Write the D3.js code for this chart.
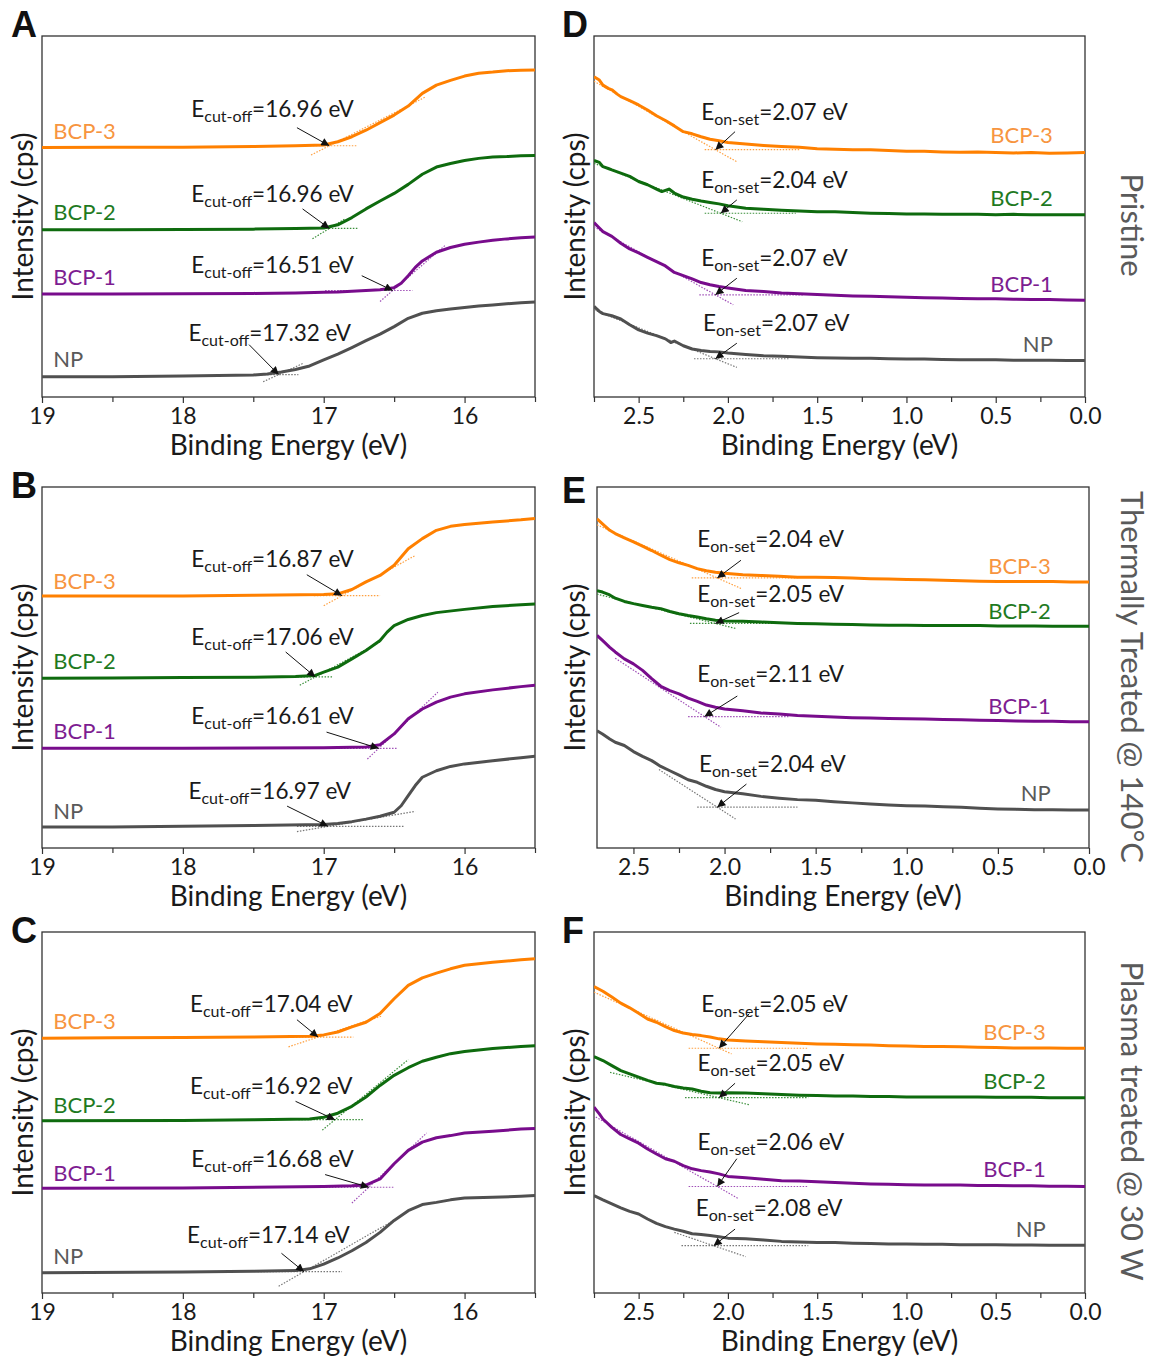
<!DOCTYPE html>
<html><head><meta charset="utf-8">
<script src="https://cdn.jsdelivr.net/npm/d3@7"></script>
<style>body{margin:0;background:#fff;} svg{display:block;}</style>
</head><body><svg id="c" width="1156" height="1356"></svg>
<script>
// ---------------- DATA ----------------
const seriesNames = ["BCP-3", "BCP-2", "BCP-1", "NP"];
const leftTicks = [19, 18, 17, 16];
const leftMinor = [18.5, 17.5, 16.5, 15.5];
const rightTicks = [2.5, 2.0, 1.5, 1.0, 0.5, 0.0];
const rightMinor = [2.75, 2.25, 1.75, 1.25, 0.75, 0.25];
const rowTitles = ["Pristine", "Thermally Treated @ 140°C", "Plasma treated @ 30 W"];

// cut-off (left) and on-set (right) values, order BCP-3, BCP-2, BCP-1, NP
const cutA = [16.96, 16.96, 16.51, 17.32];
const cutB = [16.87, 17.06, 16.61, 16.97];
const cutC = [17.04, 16.92, 16.68, 17.14];
const onD = [2.07, 2.04, 2.07, 2.07];
const onE = [2.04, 2.05, 2.11, 2.04];
const onF = [2.05, 2.05, 2.06, 2.08];

// baseline levels and tangent slopes (intensity units, arbitrary 0-100)
const baseA = [69.6, 46.7, 29.5, 6.2],  slopeA = [19.8, 24, 33.6, 18];
const baseB = [69.9, 47.4, 27.6, 6.0],  slopeB = [21.4, 21, 37, 6.7];
const baseC = [70.9, 48.0, 29.3, 5.9],  slopeC = [12.9, 32, 36.6, 22.3];
const baseD = [68.5, 50.9, 28.3, 10.6], slopeD = [27.9, 19.5, 27.7, 19.9];
const baseE = [74.8, 62.2, 36.4, 11.3], slopeE = [22.3, 12.5, 33, 32.6];
const baseF = [67.8, 54.1, 29.5, 13.1], slopeF = [22.2, 11.5, 28.3, 16.8];

// Panel A curves [binding energy eV, intensity a.u.]
const A_BCP3 = [[19,69.1],[18.5,69.2],[18,69.2],[17.5,69.4],[17.2,69.6],[17.0,69.8],[16.9,70.7],[16.8,72.1],[16.7,73.9],[16.6,76.0],[16.5,78.1],[16.4,80.6],[16.3,84.1],[16.2,86.4],[16.1,87.7],[16.0,88.9],[15.9,89.7],[15.8,90.0],[15.7,90.4],[15.6,90.5],[15.5,90.6]];
const A_BCP2 = [[19,46.3],[18.5,46.3],[18,46.4],[17.5,46.5],[17.2,46.7],[17.0,46.8],[16.9,47.7],[16.8,49.7],[16.7,52.1],[16.6,54.3],[16.5,56.4],[16.4,58.9],[16.3,61.7],[16.2,63.7],[16.1,64.7],[16.0,65.5],[15.9,66.1],[15.8,66.5],[15.7,66.6],[15.6,66.8],[15.5,66.9]];
const A_BCP1 = [[19,28.5],[18.5,28.5],[18,28.6],[17.5,28.7],[17.2,28.8],[17.0,29.0],[16.9,29.1],[16.8,29.3],[16.7,29.5],[16.6,29.7],[16.5,30.3],[16.45,31.5],[16.4,33.6],[16.35,35.9],[16.3,37.7],[16.2,40.1],[16.1,41.4],[16.0,42.3],[15.9,42.9],[15.8,43.4],[15.7,43.8],[15.6,44.1],[15.5,44.3]];
const A_NP = [[19,5.6],[18.5,5.6],[18,5.8],[17.5,6.1],[17.4,6.4],[17.3,6.9],[17.2,7.6],[17.1,8.6],[17.0,10.3],[16.9,11.9],[16.8,13.7],[16.7,15.6],[16.6,17.4],[16.5,19.5],[16.4,21.8],[16.3,23.2],[16.2,23.9],[16.1,24.4],[16.0,24.8],[15.9,25.2],[15.8,25.5],[15.7,25.8],[15.6,26.1],[15.5,26.3]];

// Panel B curves
const B_BCP3 = [[19,69.8],[18,69.8],[17.5,70.0],[17.0,70.2],[16.9,70.4],[16.8,71.6],[16.7,73.7],[16.6,75.5],[16.5,78.3],[16.45,80.6],[16.4,82.9],[16.3,85.7],[16.2,88.0],[16.1,89.1],[16.0,89.6],[15.8,90.3],[15.6,90.9],[15.5,91.3]];
const B_BCP2 = [[19,47.0],[18.5,47.1],[18,47.2],[17.5,47.3],[17.2,47.5],[17.06,47.8],[17.0,48.7],[16.9,50.1],[16.8,52.4],[16.7,54.7],[16.6,57.5],[16.55,59.8],[16.5,61.6],[16.4,63.3],[16.3,64.4],[16.2,65.2],[16.0,66.1],[15.8,66.9],[15.6,67.4],[15.5,67.6]];
const B_BCP1 = [[19,27.6],[18,27.6],[17.0,27.8],[16.7,28.0],[16.6,28.6],[16.5,31.6],[16.4,35.8],[16.3,38.5],[16.2,40.4],[16.1,41.8],[16.0,42.7],[15.8,43.8],[15.6,44.7],[15.5,45.1]];
const B_NP = [[19,5.8],[18.5,5.8],[18,6.0],[17.5,6.2],[17.0,6.5],[16.9,6.8],[16.8,7.3],[16.7,8.0],[16.6,8.8],[16.5,9.9],[16.45,11.7],[16.4,14.5],[16.35,17.3],[16.3,19.6],[16.2,21.4],[16.1,22.6],[16.0,23.3],[15.8,24.2],[15.6,25.0],[15.5,25.4]];

// Panel C curves
const C_BCP3 = [[19,70.6],[18.5,70.7],[18,70.8],[17.5,70.9],[17.1,71.1],[17.0,71.5],[16.9,72.3],[16.8,73.7],[16.7,75.0],[16.6,77.4],[16.5,81.5],[16.4,85.2],[16.3,87.3],[16.2,88.6],[16.1,89.8],[16.0,90.8],[15.8,91.6],[15.6,92.3],[15.5,92.6]];
const C_BCP2 = [[19,47.7],[18,47.8],[17.5,48.0],[17.1,48.2],[17.0,48.7],[16.9,49.8],[16.8,51.7],[16.7,54.3],[16.6,57.5],[16.5,60.3],[16.4,62.4],[16.3,64.2],[16.2,65.3],[16.1,66.3],[16.0,66.9],[15.8,67.7],[15.6,68.3],[15.5,68.5]];
const C_BCP1 = [[19,29.0],[18,29.1],[17.0,29.5],[16.8,29.7],[16.7,29.9],[16.6,31.6],[16.5,35.8],[16.4,39.5],[16.3,41.8],[16.2,43.0],[16.1,43.6],[16.0,44.3],[15.8,44.8],[15.6,45.4],[15.5,45.6]];
const C_NP = [[19,5.6],[18,5.8],[17.5,6.0],[17.2,6.2],[17.1,6.7],[17.0,8.0],[16.9,9.7],[16.8,11.7],[16.7,14.0],[16.6,16.8],[16.5,20.1],[16.4,22.8],[16.3,24.5],[16.2,25.1],[16.1,25.8],[16.0,26.3],[15.8,26.5],[15.6,26.8],[15.5,27.0]];

// Panel D curves
const D_BCP3 = [[2.75,88.7],[2.72,87.8],[2.7,86.4],[2.67,85.5],[2.65,85.1],[2.62,83.9],[2.6,83.2],[2.55,82.1],[2.5,80.9],[2.45,79.5],[2.4,77.9],[2.35,76.6],[2.3,75.1],[2.25,73.5],[2.2,72.9],[2.15,72.1],[2.1,71.4],[2.05,71.0],[2.0,70.5],[1.9,70.1],[1.8,69.7],[1.7,69.4],[1.6,69.2],[1.5,68.8],[1.4,68.6],[1.3,68.5],[1.2,68.5],[1.1,68.3],[1.0,68.1],[0.9,68.1],[0.8,67.9],[0.7,67.8],[0.6,67.9],[0.5,67.7],[0.4,67.6],[0.3,67.7],[0.2,67.5],[0.1,67.6],[0,67.7]];
const D_BCP2 = [[2.75,65.5],[2.72,65.0],[2.7,63.8],[2.67,63.3],[2.65,62.9],[2.6,62.0],[2.55,61.1],[2.5,59.7],[2.45,58.8],[2.4,57.6],[2.37,56.9],[2.33,57.6],[2.3,56.5],[2.25,55.4],[2.2,54.8],[2.15,54.3],[2.1,53.9],[2.05,53.5],[2.0,53.0],[1.9,52.3],[1.8,52.0],[1.7,51.7],[1.6,51.5],[1.5,51.3],[1.4,51.3],[1.3,51.1],[1.2,50.9],[1.1,50.8],[1.0,50.7],[0.9,50.7],[0.8,50.6],[0.7,50.6],[0.6,50.6],[0.5,50.5],[0.4,50.6],[0.3,50.5],[0.2,50.5],[0.1,50.5],[0,50.5]];
const D_BCP1 = [[2.75,48.3],[2.72,46.8],[2.7,45.8],[2.65,44.5],[2.6,42.6],[2.55,41.0],[2.5,39.9],[2.45,38.7],[2.4,37.5],[2.35,36.3],[2.3,34.5],[2.25,33.6],[2.2,32.7],[2.15,31.7],[2.1,31.1],[2.05,30.6],[2.0,30.2],[1.9,29.5],[1.8,29.2],[1.7,28.8],[1.6,28.6],[1.5,28.4],[1.4,28.2],[1.3,28.0],[1.2,27.9],[1.1,27.8],[1.0,27.6],[0.9,27.5],[0.8,27.4],[0.7,27.3],[0.6,27.2],[0.5,27.2],[0.4,27.1],[0.3,27.0],[0.2,27.0],[0.1,26.9],[0,26.8]];
const D_NP = [[2.75,25.1],[2.72,23.7],[2.7,23.1],[2.65,22.5],[2.6,21.6],[2.55,20.0],[2.5,18.6],[2.45,17.7],[2.4,17.0],[2.35,16.1],[2.32,15.1],[2.3,15.5],[2.25,14.2],[2.2,13.3],[2.15,12.9],[2.1,12.6],[2.05,12.5],[2.0,12.2],[1.9,11.8],[1.8,11.4],[1.7,11.3],[1.6,11.1],[1.5,10.9],[1.4,10.8],[1.3,10.7],[1.2,10.7],[1.1,10.6],[1.0,10.5],[0.9,10.5],[0.8,10.4],[0.7,10.3],[0.6,10.3],[0.5,10.3],[0.4,10.2],[0.3,10.2],[0.2,10.2],[0.1,10.1],[0,10.1]];

// Panel E curves
const E_BCP3 = [[2.7,91.2],[2.67,89.8],[2.63,88.0],[2.6,87.1],[2.55,85.9],[2.5,84.8],[2.45,83.6],[2.4,82.4],[2.35,81.1],[2.3,79.9],[2.25,79.0],[2.2,78.3],[2.15,77.4],[2.1,76.8],[2.05,76.4],[2.0,76.1],[1.9,75.7],[1.8,75.5],[1.7,75.3],[1.6,75.0],[1.5,75.0],[1.4,74.9],[1.3,74.8],[1.2,74.6],[1.1,74.5],[1.0,74.4],[0.9,74.3],[0.8,74.2],[0.7,74.0],[0.6,73.9],[0.5,73.8],[0.4,73.8],[0.3,73.8],[0.2,73.8],[0.1,73.7],[0,73.7]];
const E_BCP2 = [[2.7,71.3],[2.67,70.9],[2.63,70.1],[2.6,69.2],[2.55,68.3],[2.5,67.7],[2.45,67.2],[2.4,66.7],[2.35,66.3],[2.3,65.5],[2.25,64.9],[2.2,64.4],[2.15,64.0],[2.1,63.5],[2.05,63.1],[2.0,62.9],[1.9,62.8],[1.8,62.6],[1.7,62.4],[1.6,62.2],[1.5,62.1],[1.4,62.0],[1.3,61.9],[1.2,61.8],[1.1,61.7],[1.0,61.7],[0.9,61.6],[0.8,61.6],[0.7,61.6],[0.6,61.6],[0.5,61.5],[0.4,61.5],[0.3,61.5],[0.2,61.4],[0.1,61.4],[0,61.4]];
const E_BCP1 = [[2.7,58.9],[2.67,57.5],[2.63,55.6],[2.6,54.3],[2.55,52.4],[2.5,51.0],[2.45,49.2],[2.4,46.9],[2.35,44.8],[2.3,43.6],[2.25,42.7],[2.2,41.5],[2.15,40.6],[2.1,39.6],[2.05,39.0],[2.0,38.5],[1.9,38.0],[1.8,37.4],[1.7,37.1],[1.6,36.7],[1.5,36.5],[1.4,36.3],[1.3,36.1],[1.2,36.0],[1.1,35.9],[1.0,35.8],[0.9,35.7],[0.8,35.6],[0.7,35.5],[0.6,35.4],[0.5,35.3],[0.4,35.2],[0.3,35.1],[0.2,35.1],[0.1,35.0],[0,35.0]];
const E_NP = [[2.7,32.5],[2.67,31.6],[2.63,30.2],[2.6,29.3],[2.55,28.4],[2.5,26.7],[2.45,25.4],[2.4,24.2],[2.35,22.6],[2.3,21.4],[2.25,20.2],[2.2,18.9],[2.15,18.2],[2.1,17.1],[2.05,16.2],[2.0,15.6],[1.9,15.0],[1.8,14.3],[1.7,13.8],[1.6,13.4],[1.5,13.2],[1.4,12.8],[1.3,12.5],[1.2,12.2],[1.1,11.9],[1.0,11.7],[0.9,11.6],[0.8,11.4],[0.7,11.3],[0.6,11.0],[0.5,10.8],[0.4,10.7],[0.3,10.6],[0.2,10.6],[0.1,10.5],[0,10.5]];

// Panel F curves
const F_BCP3 = [[2.75,84.9],[2.7,83.6],[2.65,82.0],[2.6,80.3],[2.55,79.0],[2.5,77.5],[2.45,75.9],[2.4,75.0],[2.35,73.8],[2.3,72.7],[2.25,72.0],[2.2,71.6],[2.15,71.3],[2.1,70.9],[2.05,70.4],[2.0,70.1],[1.9,69.8],[1.8,69.6],[1.7,69.4],[1.6,69.2],[1.5,69.0],[1.4,68.9],[1.3,68.8],[1.2,68.7],[1.1,68.5],[1.0,68.4],[0.9,68.3],[0.8,68.3],[0.7,68.2],[0.6,68.1],[0.5,68.0],[0.4,67.9],[0.3,67.9],[0.2,67.9],[0.1,67.8],[0,67.8]];
const F_BCP2 = [[2.75,65.5],[2.7,64.4],[2.65,63.0],[2.6,61.6],[2.55,60.7],[2.5,59.8],[2.45,58.9],[2.4,58.1],[2.35,57.8],[2.3,57.2],[2.25,56.8],[2.2,56.5],[2.15,55.9],[2.1,55.5],[2.05,55.4],[2.0,55.5],[1.9,55.4],[1.8,55.2],[1.7,55.0],[1.6,54.8],[1.5,54.7],[1.4,54.6],[1.3,54.6],[1.2,54.4],[1.1,54.4],[1.0,54.3],[0.9,54.3],[0.8,54.3],[0.7,54.3],[0.6,54.3],[0.5,54.2],[0.4,54.2],[0.3,54.2],[0.2,54.1],[0.1,54.1],[0,54.1]];
const F_BCP1 = [[2.75,51.5],[2.72,49.6],[2.7,48.2],[2.65,45.9],[2.6,43.9],[2.55,42.7],[2.5,41.5],[2.45,39.9],[2.4,38.5],[2.35,37.2],[2.3,36.5],[2.25,35.3],[2.2,34.4],[2.15,33.9],[2.1,33.5],[2.05,33.0],[2.0,32.3],[1.9,31.9],[1.8,31.5],[1.7,31.1],[1.6,31.0],[1.5,30.8],[1.4,30.6],[1.3,30.4],[1.2,30.2],[1.1,30.1],[1.0,30.0],[0.9,29.9],[0.8,29.9],[0.7,29.9],[0.6,29.8],[0.5,29.8],[0.4,29.7],[0.3,29.7],[0.2,29.6],[0.1,29.6],[0,29.5]];
const F_NP = [[2.75,27.0],[2.7,25.8],[2.65,24.7],[2.6,23.6],[2.55,22.6],[2.5,21.9],[2.45,20.5],[2.4,19.3],[2.35,18.4],[2.3,17.7],[2.25,17.1],[2.2,16.4],[2.15,16.2],[2.1,15.9],[2.05,15.6],[2.0,15.2],[1.9,15.0],[1.8,14.7],[1.7,14.3],[1.6,14.1],[1.5,14.0],[1.4,14.0],[1.3,13.8],[1.2,13.7],[1.1,13.6],[1.0,13.6],[0.9,13.5],[0.8,13.5],[0.7,13.4],[0.6,13.4],[0.5,13.4],[0.4,13.3],[0.3,13.3],[0.2,13.2],[0.1,13.2],[0,13.2]];

// ---------------- LAYOUT / STYLE ----------------
const FONT = "Lato, 'Open Sans', sans-serif";
const lineColors = ["#ff8000", "#0e6b0e", "#780c8c", "#505050"];
const labelColors = ["#f7953f", "#1f7a1f", "#7d1d91", "#5a5a5a"];
const tangentColors = ["#ffa040", "#3a8f3a", "#a050b8", "#777777"];

// annotation layout per panel: text anchor [E,v], arrow tail [E,v], h-line extent, slope-line extent
const layoutA = {text:[[17.94,77.6],[17.94,54.1],[17.94,34.3],[17.96,15.4]], tail:[[17.19,74.6],[17.15,52.1],[16.73,33.6],[17.53,14.5]], h:[[17.12,16.76],[17.07,16.76],[16.99,16.37],[17.55,17.18]], s:[[17.09,16.28],[17.08,16.85],[16.6,16.14],[17.43,17.15]], lab:[71.6,49.0,31.1,8.2]};
const layoutB = {text:[[17.94,77.8],[17.94,56.1],[17.94,34.4],[17.96,13.6]], tail:[[17.12,75.7],[17.27,54.3],[16.98,32.1],[17.26,11.6]], h:[[17.07,16.6],[17.42,16.94],[17.09,16.48],[17.19,16.43]], s:[[17.0,16.35],[17.17,16.6],[16.69,16.19],[17.19,16.35]], lab:[71.8,49.6,30.2,8.0]};
const layoutC = {text:[[17.95,77.8],[17.95,55.2],[17.94,34.8],[17.97,13.8]], tail:[[17.19,75.7],[17.2,53.1],[16.99,32.8],[17.3,11.0]], h:[[17.24,16.79],[17.18,16.72],[17.07,16.5],[17.47,16.87]], s:[[17.25,16.59],[17.01,16.4],[16.8,16.27],[17.32,16.5]], lab:[73.2,49.8,31.1,8.0]};
const layoutD = {text:[[2.15,76.8],[2.15,57.8],[2.15,36.2],[2.14,18.2]], tail:[[1.96,73.5],[1.95,54.6],[1.95,32.9],[1.95,14.9]], h:[[2.13,1.6],[2.13,1.62],[2.16,1.58],[2.19,1.66]], s:[[2.75,1.95],[2.75,1.92],[2.75,1.97],[2.75,1.95]], lab:[70.3,52.8,29.2,12.6]};
const layoutE = {text:[[2.15,83.4],[2.15,68.1],[2.15,45.9],[2.14,21.0]], tail:[[1.91,79.7],[1.92,65.2],[1.93,42.1],[1.88,17.7]], h:[[2.18,1.6],[2.19,1.6],[2.2,1.65],[2.15,1.6]], s:[[2.7,1.91],[2.7,1.94],[2.6,2.02],[2.36,1.94]], lab:[76.0,63.5,37.2,13.1]};
const layoutF = {text:[[2.15,77.8],[2.17,61.6],[2.17,39.6],[2.18,21.4]], tail:[[1.88,77.4],[1.96,58.1],[1.95,37.2],[1.96,17.7]], h:[[2.22,1.55],[2.24,1.55],[2.22,1.55],[2.26,1.55]], s:[[2.75,1.98],[2.66,1.88],[2.74,1.94],[2.3,1.9]], lab:[70.1,56.6,32.1,15.4]};

const panels = [
  {letter:"A", lx:11, ly:37, box:[42,535,36,397], dom:[19,15.5], ticks:leftTicks, minor:leftMinor, fmt:d3.format("d"), sub:"cut-off", vals:cutA, base:baseA, slope:slopeA, lay:layoutA, curves:[A_BCP3,A_BCP2,A_BCP1,A_NP], side:"left", labE:18.92},
  {letter:"B", lx:11, ly:498, box:[42,535,487,848], dom:[19,15.5], ticks:leftTicks, minor:leftMinor, fmt:d3.format("d"), sub:"cut-off", vals:cutB, base:baseB, slope:slopeB, lay:layoutB, curves:[B_BCP3,B_BCP2,B_BCP1,B_NP], side:"left", labE:18.92},
  {letter:"C", lx:11, ly:943, box:[42,535,932,1293], dom:[19,15.5], ticks:leftTicks, minor:leftMinor, fmt:d3.format("d"), sub:"cut-off", vals:cutC, base:baseC, slope:slopeC, lay:layoutC, curves:[C_BCP3,C_BCP2,C_BCP1,C_NP], side:"left", labE:18.92},
  {letter:"D", lx:562, ly:37, box:[594,1085,36,397], dom:[2.75,0], ticks:rightTicks, minor:rightMinor, fmt:d3.format(".1f"), sub:"on-set", vals:onD, base:baseD, slope:slopeD, lay:layoutD, curves:[D_BCP3,D_BCP2,D_BCP1,D_NP], side:"right", labE:0.18, row:0},
  {letter:"E", lx:562, ly:503, box:[597,1089,487,848], dom:[2.7,0], ticks:rightTicks, minor:rightMinor.filter(d=>d<=2.7), fmt:d3.format(".1f"), sub:"on-set", vals:onE, base:baseE, slope:slopeE, lay:layoutE, curves:[E_BCP3,E_BCP2,E_BCP1,E_NP], side:"right", labE:0.21, row:1},
  {letter:"F", lx:562, ly:943, box:[594,1085,932,1293], dom:[2.75,0], ticks:rightTicks, minor:rightMinor, fmt:d3.format(".1f"), sub:"on-set", vals:onF, base:baseF, slope:slopeF, lay:layoutF, curves:[F_BCP3,F_BCP2,F_BCP1,F_NP], side:"right", labE:0.22, row:2}
];
const rowTitleY = [225, 677, 1121];

// ---------------- DRAW ----------------
const svg = d3.select("#c");
svg.append("rect").attr("width",1156).attr("height",1356).attr("fill","#fff");
const defs = svg.append("defs");
defs.append("marker").attr("id","arr").attr("viewBox","0 0 10 10")
  .attr("refX",10).attr("refY",5).attr("markerWidth",11).attr("markerHeight",8)
  .attr("markerUnits","userSpaceOnUse").attr("orient","auto")
  .append("path").attr("d","M0,0 L10,5 L0,10 z").attr("fill","#111");

panels.forEach(p => {
  const [L,R,T,B] = p.box;
  const g = svg.append("g");
  const x = d3.scaleLinear().domain(p.dom).range([L,R]);
  const y = d3.scaleLinear().domain([0,100]).range([B,T]);

  // axes ticks
  const ax = d3.axisBottom(x).tickValues(p.ticks).tickFormat(p.fmt).tickSize(6).tickPadding(5);
  const axg = g.append("g").attr("transform",`translate(0,${B})`).call(ax);
  axg.select(".domain").remove();
  axg.selectAll("line").attr("stroke","#333").attr("stroke-width",1.2);
  axg.selectAll("text").attr("font-family",FONT).attr("font-size",23).attr("fill","#1a1a1a");
  const mx = d3.axisBottom(x).tickValues(p.minor).tickFormat("").tickSize(5);
  const mg = g.append("g").attr("transform",`translate(0,${B})`).call(mx);
  mg.select(".domain").remove();
  mg.selectAll("line").attr("stroke","#333").attr("stroke-width",1.2);

  // frame
  g.append("rect").attr("x",L).attr("y",T).attr("width",R-L).attr("height",B-T)
    .attr("fill","none").attr("stroke","#333").attr("stroke-width",1.3);

  // axis titles
  g.append("text").attr("x",(L+R)/2).attr("y",B+58).attr("text-anchor","middle")
    .attr("font-family",FONT).attr("font-size",28).attr("fill","#1a1a1a").text("Binding Energy (eV)");
  const yx = p.side==="left" ? 22 : 574;
  g.append("text").attr("transform",`translate(${yx},${(T+B)/2}) rotate(-90)`)
    .attr("text-anchor","middle").attr("dominant-baseline","central")
    .attr("font-family",FONT).attr("font-size",28).attr("fill","#1a1a1a").text("Intensity (cps)");

  // panel letter
  svg.append("text").attr("x",p.lx).attr("y",p.ly).attr("font-family","'Liberation Sans', Arial, sans-serif")
    .attr("font-weight","bold").attr("font-size",36).attr("fill","#111").text(p.letter);

  const clip = "clip"+p.letter;
  defs.append("clipPath").attr("id",clip).append("rect").attr("x",L).attr("y",T).attr("width",R-L).attr("height",B-T);
  const pg = g.append("g").attr("clip-path",`url(#${clip})`);
  const line = d3.line().x(d=>x(d[0])).y(d=>y(d[1]));

  seriesNames.forEach((name,i) => {
    const v = p.vals[i], b = p.base[i], s = p.slope[i], lay = p.lay;
    const sgn = p.side==="left" ? -1 : 1;
    const tl = E => b + sgn*s*(E - v);
    pg.append("line").attr("x1",x(lay.h[i][0])).attr("x2",x(lay.h[i][1])).attr("y1",y(b)).attr("y2",y(b))
      .attr("stroke",tangentColors[i]).attr("stroke-width",1.2).attr("stroke-dasharray","1.5,1.5");
    pg.append("line").attr("x1",x(lay.s[i][0])).attr("x2",x(lay.s[i][1]))
      .attr("y1",y(tl(lay.s[i][0]))).attr("y2",y(tl(lay.s[i][1])))
      .attr("stroke",tangentColors[i]).attr("stroke-width",1.2).attr("stroke-dasharray","1.5,1.5");
    pg.append("path").datum(p.curves[i]).attr("d",line).attr("fill","none")
      .attr("stroke",lineColors[i]).attr("stroke-width",3).attr("stroke-linejoin","round");
    g.append("line").attr("x1",x(lay.tail[i][0])).attr("y1",y(lay.tail[i][1]))
      .attr("x2",x(v)).attr("y2",y(b)).attr("stroke","#111").attr("stroke-width",1)
      .attr("marker-end","url(#arr)");
    const t = g.append("text").attr("x",x(lay.text[i][0])).attr("y",y(lay.text[i][1]))
      .attr("font-family",FONT).attr("font-size",22.5).attr("fill","#1a1a1a");
    t.append("tspan").text("E");
    t.append("tspan").attr("font-size",16).attr("dy",5).text(p.sub);
    t.append("tspan").attr("dy",-5).text("=" + v.toFixed(2) + " eV");
    g.append("text").attr("x",x(p.labE)).attr("y",y(lay.lab[i]))
      .attr("text-anchor", p.side==="left" ? "start" : "end")
      .attr("font-family",FONT).attr("font-size",22).attr("fill",labelColors[i]).text(name);
  });

  if (p.side==="right") {
    svg.append("text").attr("transform",`translate(1133,${rowTitleY[p.row]}) rotate(90)`)
      .attr("text-anchor","middle").attr("dominant-baseline","central")
      .attr("font-family",FONT).attr("font-size",31).attr("fill","#5a5a5a").text(rowTitles[p.row]);
  }
});
</script></body></html>
